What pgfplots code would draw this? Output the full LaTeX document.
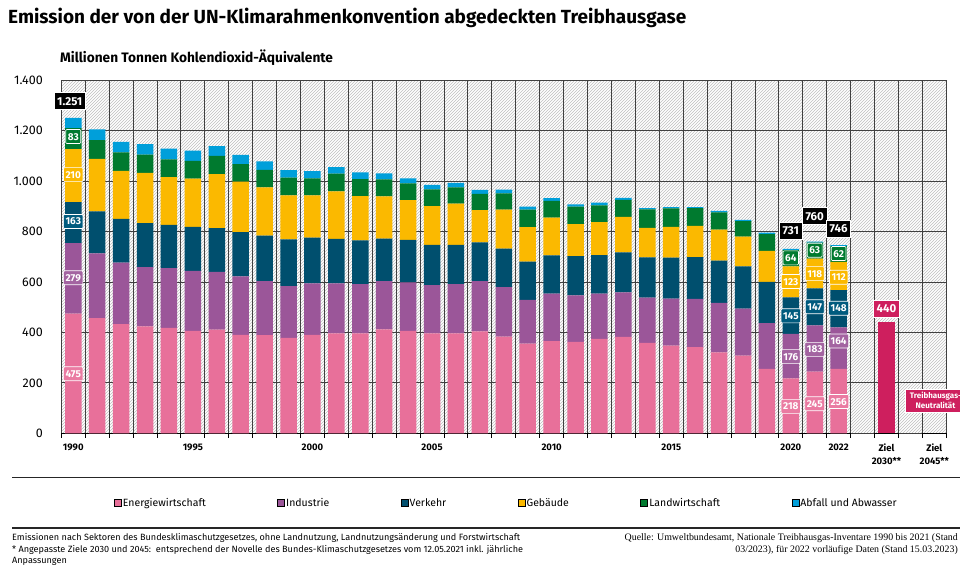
\documentclass[border=0pt]{standalone}
\usepackage{fontspec}
\setmainfont{Fira Sans}
\newfontfamily\seriffont{Liberation Serif}
\usepackage{pgfplots}
\pgfplotsset{compat=1.18}
\usepackage{pgfplotstable}
\usetikzlibrary{patterns}

\definecolor{cE}{HTML}{E8709A}
\definecolor{cI}{HTML}{9B5699}
\definecolor{cV}{HTML}{004F6E}
\definecolor{cG}{HTML}{FBB900}
\definecolor{cL}{HTML}{007A2F}
\definecolor{cA}{HTML}{009FDA}
\definecolor{cZ}{HTML}{CE1F5E}

% Mio. t CO2-Aequivalente; x = 0 (1990) ... 32 (2022)
\pgfplotstableread{
x E I V G L A
0 475 279 163 210 83 41
1 457 257 166 208 75 42
2 433 244 173 191 73 42
3 424 235 175 199 72 42
4 418 237 172 189 70 43
5 406 238 175 191 70 41
6 411 229 174 214 72 39
7 390 232 176 200 70 36
8 389 215 180 191 70 33
9 378 206 185 175 70 30
10 390 205 181 168 67 29
11 396 199 176 188 71 26
12 396 196 173 176 67 27
13 412 192 168 168 67 24
14 406 193 168 158 66 20
15 396 192 159 154 66 18
16 396 196 155 164 64 18
17 404 200 153 128 65 15
18 383 197 152 155 65 14
19 356 173 152 137 69 12
20 366 188 152 149 67 11
21 363 184 156 127 69 9
22 374 180 153 131 66 11
23 382 177 159 140 68 8
24 359 179 160 117 73 5
25 348 186 163 122 73 5
26 342 191 166 124 70 4
27 321 196 168 123 68 6
28 308 186 168 118 61 5
29 256 181 164 122 67 6
30 218 176 145 123 64 5
31 245 183 147 118 63 4
32 256 164 148 112 62 4
}\datatable

\pgfplotsset{
  common/.style={
    scale only axis, width=885pt, height=353pt,
    xmin=-0.5, xmax=36.5, ymin=0, ymax=1400,
    at={(61.3pt,131.7pt)}, anchor=south west,
  },
  sq/.style={legend image code/.code={\draw[##1] (0pt,-3.5pt) rectangle (7pt,3.5pt);}},
  lab/.style={draw=none, mark=none, nodes near coords, point meta=explicit symbolic,
    nodes near coords style={anchor=center, fill=#1, text=white, draw=white, line width=0.6pt,
      font=\fontsize{10}{11}\selectfont\bfseries, inner sep=2pt, minimum height=14pt,
      text height=7pt, text depth=0pt, rounded corners=1pt}},
  tot/.style={draw=none, mark=none, nodes near coords, point meta=explicit symbolic,
    nodes near coords style={anchor=center, fill=#1, text=white, draw=white, line width=0.6pt,
      font=\fontsize{11.5}{12}\selectfont\bfseries, inner sep=3pt, minimum height=17pt,
      text height=8pt, text depth=0pt}},
}

\begin{document}
\begin{tikzpicture}
\path[use as bounding box] (0pt,0pt) rectangle (960pt,565pt);

\begin{axis}[common,
  ybar stacked, bar width=16.5pt,
  axis background/.style={fill=white, postaction={pattern=north east lines, pattern color=black!25}},
  axis lines*=left, axis line style={draw=none},
  xtick={0,5,10,15,20,25,30,32,34,36},
  xticklabels={1990,1995,2000,2005,2010,2015,2020,2022,{Ziel\\2030**},{Ziel\\2045**}},
  xticklabel style={font=\fontsize{9.5}{12.5}\selectfont\bfseries, align=center, yshift=-7pt},
  minor xtick={-0.5,0.5,...,36.5},
  xminorgrids=true, xmajorgrids=false, ymajorgrids=true,
  major grid style={black!75, line width=0.9pt},
  minor grid style={black!75, line width=0.9pt},
  major tick length=0pt, minor tick length=4.5pt, tick align=outside,
  minor tick style={black, line width=0.9pt},
  ytick={0,200,...,1400},
  yticklabels={0,200,400,600,800,1.000,1.200,1.400},
  yticklabel style={font=\fontsize{12.5}{15}\selectfont, xshift=-15pt},
  legend style={at={(0.0560,-0.1975)}, anchor=west, draw=none, fill=none,
    legend columns=6, font=\fontsize{10.5}{12}\selectfont,
    nodes={inner sep=1.5pt},
    /tikz/every even column/.append style={column sep=70pt}},
  legend cell align=left,
]
\addplot[fill=cE, draw=none, sq] table[x=x, y=E] {\datatable};
\addlegendentry{Energiewirtschaft}
\addplot[fill=cI, draw=none, sq] table[x=x, y=I] {\datatable};
\addlegendentry{Industrie}
\addplot[fill=cV, draw=none, sq] table[x=x, y=V] {\datatable};
\addlegendentry{Verkehr}
\addplot[fill=cG, draw=none, sq] table[x=x, y=G] {\datatable};
\addlegendentry{Gebäude}
\addplot[fill=cL, draw=none, sq] table[x=x, y=L] {\datatable};
\addlegendentry{Landwirtschaft}
\addplot[fill=cA, draw=none, sq] table[x=x, y=A] {\datatable};
\addlegendentry{Abfall und Abwasser}

\draw[black, line width=1.3pt] (axis cs:-0.5,0) -- (axis cs:32.5,0);
\draw[black, line width=1.3pt] (axis cs:33.5,0) -- (axis cs:34.5,0);
\draw[black, line width=1.3pt] (axis cs:35.5,0) -- (axis cs:36.5,0);
\draw[black, line width=1.1pt, dash pattern=on 1.1pt off 1.7pt]
  ([yshift=-6pt]axis cs:32.55,0) -- ([yshift=-6pt]axis cs:33.45,0);
\draw[black, line width=1.1pt, dash pattern=on 1.1pt off 1.7pt]
  ([yshift=-6pt]axis cs:34.55,0) -- ([yshift=-6pt]axis cs:35.45,0);
\end{axis}

\begin{axis}[common, hide axis, clip=false]
\addplot[ybar, bar width=16.5pt, bar shift=0pt, fill=cZ, draw=none] coordinates {(34,440)};
\addplot[lab=cE!92!white] coordinates {(0,236)[475] (30,107)[218] (31,117)[245] (32,126)[256]};
\addplot[lab=cI!92!white] coordinates {(0,617)[279] (30,304)[176] (31,333)[183] (32,366)[164]};
\addplot[lab=cV!85!cA] coordinates {(0,840)[163] (30,466)[145] (31,502)[147] (32,496)[148]};
\addplot[lab=cG] coordinates {(0,1026)[210] (30,602)[123] (31,633)[118] (32,619)[112]};
\addplot[lab=cL] coordinates {(0,1177)[83] (30,696)[64] (31,726)[63] (32,713)[62]};
\addplot[tot=black] coordinates {(-0.15,1317)[1.251] (30,804)[731] (31,861)[760] (32,813)[746]};
\addplot[tot=cZ] coordinates {(34,493)[440]};
\addplot[draw=none, mark=none, nodes near coords, point meta=explicit symbolic,
  nodes near coords style={anchor=center, fill=cZ, text=white, draw=white, line width=0.6pt,
    font=\fontsize{8}{10}\selectfont\bfseries, align=center, inner sep=3pt,
    text width=54pt}]
  coordinates {(36.05,129)[{Treibhausgas-\\Neutralität}]};
\end{axis}

\node[anchor=base west, inner sep=0, font=\fontsize{19}{22}\selectfont\bfseries]
  at (8pt,541pt) {Emission der von der UN-Klimarahmenkonvention abgedeckten Treibhausgase};
\node[anchor=base west, inner sep=0, font=\fontsize{13.7}{15}\selectfont\bfseries]
  at (60pt,502pt) {Millionen Tonnen Kohlendioxid-Äquivalente};

\draw[black!85, line width=1.3pt] (12pt,87.5pt) -- (960pt,87.5pt);
\draw[black!85, line width=2pt] (12pt,37pt) -- (960pt,37pt);

\node[anchor=base west, inner sep=0, font=\fontsize{9.1}{10}\selectfont] at (12pt,25pt)
  {Emissionen nach Sektoren des Bundesklimaschutzgesetzes, ohne Landnutzung, Landnutzungsänderung und Forstwirtschaft};
\node[anchor=base west, inner sep=0, font=\fontsize{9.1}{10}\selectfont] at (12pt,12.5pt)
  {* Angepasste Ziele 2030 und 2045:\ \ entsprechend der Novelle des Bundes-Klimaschutzgesetzes vom 12.05.2021 inkl. jährliche};
\node[anchor=base west, inner sep=0, font=\fontsize{9.1}{10}\selectfont] at (12pt,1.5pt)
  {Anpassungen};
\node[anchor=base east, inner sep=0, font=\seriffont\fontsize{9.9}{10}\selectfont] at (958pt,25pt)
  {Quelle: Umweltbundesamt, Nationale Treibhausgas-Inventare 1990 bis 2021 (Stand};
\node[anchor=base east, inner sep=0, font=\seriffont\fontsize{9.9}{10}\selectfont] at (958pt,12.5pt)
  {03/2023), für 2022 vorläufige Daten (Stand 15.03.2023)};
\end{tikzpicture}
\end{document}
